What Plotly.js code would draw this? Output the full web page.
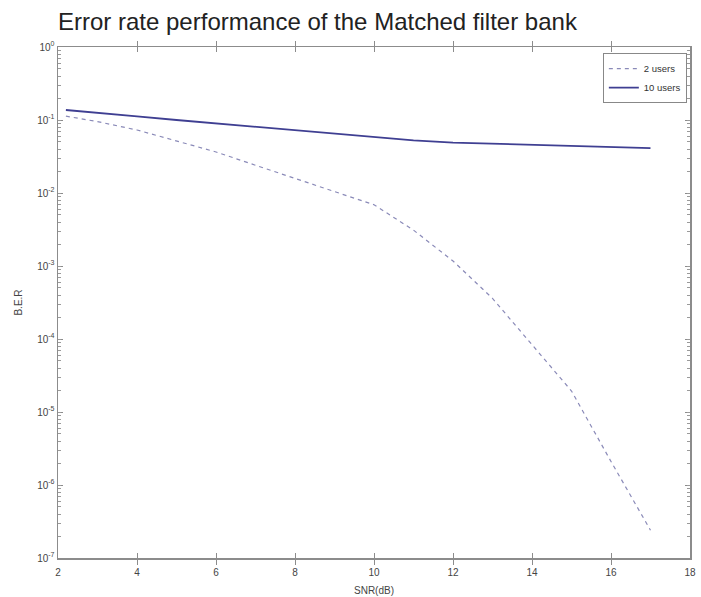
<!DOCTYPE html>
<html>
<head>
<meta charset="utf-8">
<script src="https://cdn.plot.ly/plotly-3.0.1.min.js"></script>
<style>html,body{margin:0;padding:0;background:#fff;}#chart{width:701px;height:597px;}</style>
</head>
<body>
<div id="chart"></div>
<script>
// SNR (dB) values
const snr2 = [2.2, 3, 4, 5, 6, 7, 8, 9, 10, 11, 12, 13, 14, 15, 16, 17];
const ber2users = [0.113, 0.095, 0.073, 0.052, 0.0365, 0.024, 0.0158, 0.0106, 0.0069, 0.0031, 0.00117, 0.00036, 0.000083, 0.0000194, 0.0000021, 0.00000024];
const snr10 = [2.2, 3, 4, 5, 6, 7, 8, 9, 10, 11, 12, 13, 14, 15, 16, 17];
const ber10users = [0.137, 0.124, 0.112, 0.1, 0.0895, 0.08, 0.0716, 0.065, 0.0585, 0.0525, 0.049, 0.0475, 0.0457, 0.0445, 0.043, 0.0413];
const seriesNames = ["2 users", "10 users"];
const yTickVals = [1, 0.1, 0.01, 0.001, 0.0001, 0.00001, 0.000001, 0.0000001];
const yTickText = ["10<sup>0</sup>", "10<sup>-1</sup>", "10<sup>-2</sup>", "10<sup>-3</sup>", "10<sup>-4</sup>", "10<sup>-5</sup>", "10<sup>-6</sup>", "10<sup>-7</sup>"];
const xTickVals = [2, 4, 6, 8, 10, 12, 14, 16, 18];

const FONT = 'Liberation Sans, Arial, sans-serif';

const traces = [
  {x: snr2, y: ber2users, name: seriesNames[0], mode: 'lines', type: 'scatter',
   line: {color: '#8a8ab8', width: 1.2, dash: '4px,4px'}},
  {x: snr10, y: ber10users, name: seriesNames[1], mode: 'lines', type: 'scatter',
   line: {color: '#3f3f92', width: 1.8}},
  // invisible copy on the overlay axis that carries the minor log ticks
  {x: snr10, y: ber10users, yaxis: 'y2', mode: 'lines', type: 'scatter', opacity: 0,
   showlegend: false, hoverinfo: 'skip', line: {width: 0}}
];

const axisCommon = {
  showline: true, mirror: 'allticks', linecolor: '#8c8c8c', linewidth: 1.5,
  ticks: 'inside', ticklen: 5, tickcolor: '#8c8c8c', showgrid: false, zeroline: false,
  tickfont: {family: FONT, size: 10, color: '#444'}
};

const layout = {
  width: 701, height: 597,
  margin: {l: 58, r: 11, t: 47, b: 39},
  paper_bgcolor: '#fff', plot_bgcolor: '#fff',
  title: {text: 'Error rate performance of the Matched filter bank',
          font: {family: FONT, size: 24, color: '#222'},
          xref: 'paper', x: 0, xanchor: 'left',
          yref: 'container', y: 0.964, yanchor: 'middle', pad: {l: 0, r: 0, t: 0, b: 0}},
  xaxis: Object.assign({}, axisCommon, {
    range: [2, 18], tickvals: xTickVals, ticktext: xTickVals.map(String),
    ticklabelstandoff: 4,
    title: {text: 'SNR(dB)', font: {family: FONT, size: 10, color: '#444'}, standoff: 10}
  }),
  yaxis: Object.assign({}, axisCommon, {
    type: 'log', range: [-7, 0], tickvals: yTickVals, ticktext: yTickText,
    title: {text: 'B.E.R', font: {family: FONT, size: 10, color: '#444'}, standoff: 12}
  }),
  yaxis2: {
    type: 'log', range: [-7, 0], overlaying: 'y', side: 'left', dtick: 'D1',
    showticklabels: false, ticks: 'inside', ticklen: 3, tickcolor: '#9a9a9a',
    showline: false, mirror: 'ticks', showgrid: false, zeroline: false
  },
  showlegend: true,
  legend: {x: 0.995, y: 0.988, xanchor: 'right', yanchor: 'top',
           bgcolor: '#fff', bordercolor: '#888', borderwidth: 1,
           font: {family: FONT, size: 9.5, color: '#333'},
           tracegroupgap: 0, itemwidth: 30}
};

Plotly.newPlot('chart', traces, layout, {displayModeBar: false, staticPlot: true});
</script>
</body>
</html>
